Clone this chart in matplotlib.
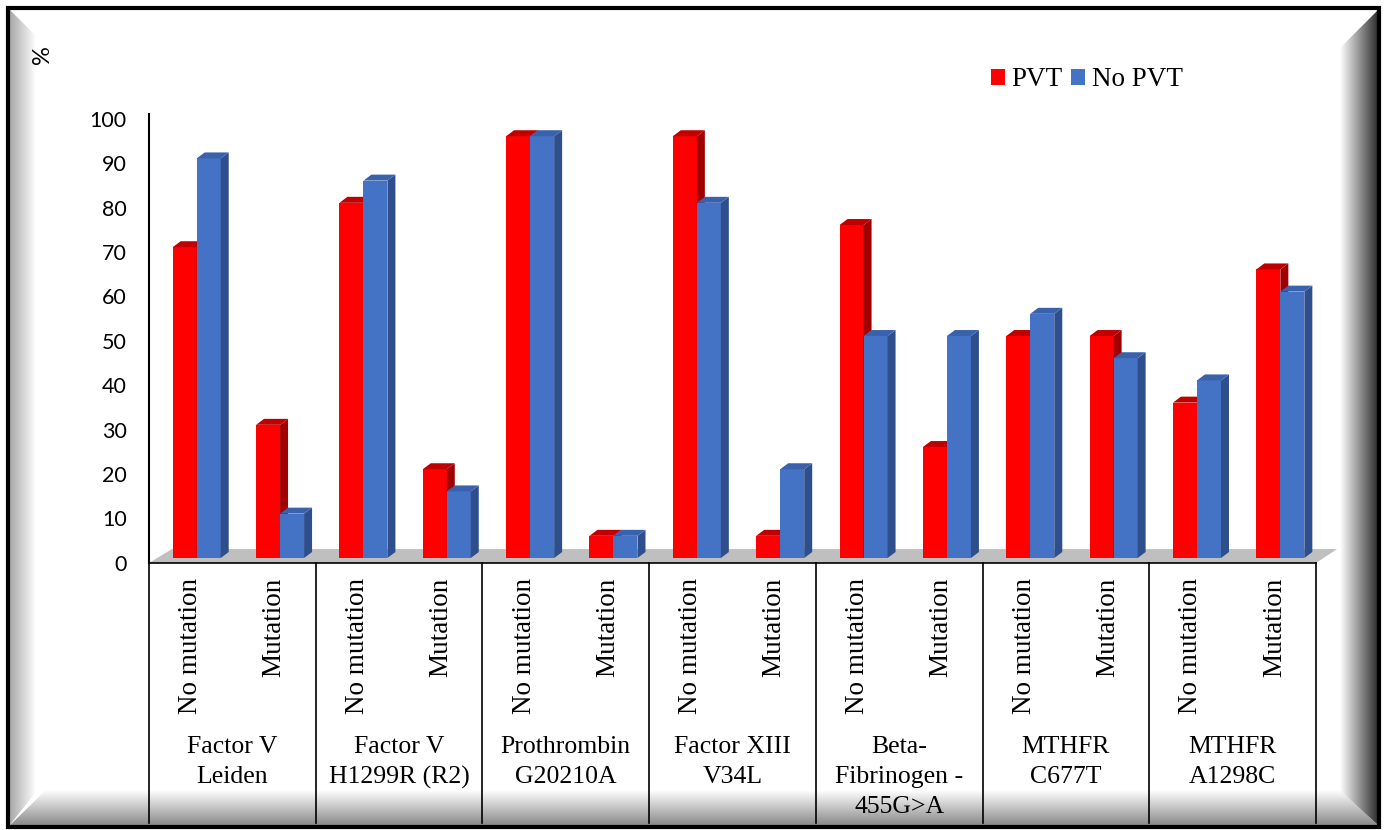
import numpy as np
import matplotlib.pyplot as plt
from matplotlib.patches import Polygon, Patch, Rectangle
from matplotlib.transforms import blended_transform_factory, ScaledTranslation

groups = ["Factor V\nLeiden", "Factor V\nH1299R (R2)", "Prothrombin\nG20210A",
          "Factor XIII\nV34L", "Beta-\nFibrinogen -\n455G>A", "MTHFR\nC677T", "MTHFR\nA1298C"]
subcats = ["No mutation", "Mutation"]
pvt = [70, 30, 80, 20, 95, 5, 95, 5, 75, 25, 50, 50, 35, 65]
no_pvt = [90, 10, 85, 15, 95, 5, 80, 20, 50, 50, 55, 45, 40, 60]

W, H = 1386, 830
fig = plt.figure(figsize=(W / 100, H / 100), dpi=100)

def py(y):
    return 1 - y / H

# frame with bevel
bg = fig.add_axes([0, 0, 1, 1])
bg.set_xlim(0, W)
bg.set_ylim(H, 0)
bg.axis("off")

def grad(ax, poly_pts, extent, c0, c1, horizontal=True):
    t = np.linspace(0, 1, 256)
    c0 = np.array(c0) / 255.0
    c1 = np.array(c1) / 255.0
    cols = c0[None, :] * (1 - t[:, None]) + c1[None, :] * t[:, None]
    img = cols[None, :, :] if horizontal else cols[:, None, :]
    im = ax.imshow(img, extent=extent, aspect="auto", interpolation="bilinear", zorder=1)
    poly = Polygon(poly_pts, closed=True, facecolor="none", edgecolor="none")
    ax.add_patch(poly)
    im.set_clip_path(poly)

# left bevel: gray at edge to white inward
grad(bg, [(9, 9), (36, 36), (36, 792), (9, 826)], (9, 36, 826, 9),
     (165, 165, 165), (255, 255, 255))
# right bevel: white inward to dark at edge
grad(bg, [(1379, 9), (1340, 48), (1340, 792), (1379, 826)], (1340, 1379, 826, 9),
     (255, 255, 255), (40, 40, 40))
# bottom bevel: white at top to gray at the bottom edge
grad(bg, [(9, 826), (46, 790), (1340, 790), (1379, 826)], (9, 1379, 826, 790),
     (255, 255, 255), (135, 135, 135), horizontal=False)
bg.add_patch(Rectangle((8, 8), 1371, 819, fill=False, edgecolor="black", linewidth=3, zorder=5))

# main axes
x0, x1 = 149, 1316
ytop, ybot = 114, 563
ppu = 4.46
ax = fig.add_axes([x0 / W, py(ybot), (x1 - x0) / W, (ybot - ytop) / H])
ax.patch.set_alpha(0)
n = len(pvt)
ax.set_xlim(0, n)
ax.set_ylim(-(ybot - 558) / ppu, (558 - ytop) / ppu)

slot = (x1 - x0) / n
bw = 24 / slot
off = (172.7 - x0) / slot
dx = 8 / slot
dy = 6 / ppu

# floor
fy = (558 - 549) / ppu
floor = Polygon([(0, ax.get_ylim()[0]), ((172 - x0) / slot, fy),
                 ((1337 - x0) / slot, fy), (n, ax.get_ylim()[0])],
                closed=True, facecolor="#BFBFBF", edgecolor="none", clip_on=False, zorder=1)
ax.add_patch(floor)

series = [(pvt, "#FF0000", "#C00000", "#A00000"),
          (no_pvt, "#4472C4", "#3A62AC", "#2F4F8C")]
z = 2
for i in range(n):
    for k, (vals, front, top, side) in enumerate(series):
        v = vals[i]
        xl = i + off + k * bw
        xr = xl + bw
        ax.bar(xl, v, width=bw, align="edge", color=front, edgecolor="none", zorder=z)
        ax.add_patch(Polygon([(xr, 0), (xr + dx, dy), (xr + dx, v + dy), (xr, v)],
                             closed=True, facecolor=side, edgecolor="none", zorder=z))
        ax.add_patch(Polygon([(xl, v), (xl + dx, v + dy), (xr + dx, v + dy), (xr, v)],
                             closed=True, facecolor=top, edgecolor="none", zorder=z))
        z += 1

for s in ["top", "right"]:
    ax.spines[s].set_visible(False)
ax.spines["left"].set_linewidth(1.5)
ax.spines["bottom"].set_linewidth(1.2)
ax.spines["left"].set_zorder(50)
ax.spines["bottom"].set_zorder(50)
ax.set_xticks([])
ax.set_yticks(np.arange(0, 101, 10))
ax.tick_params(axis="y", length=0, pad=16, labelsize=15.5)
for lab in ax.get_yticklabels():
    lab.set_fontfamily("Lato")
    lab.set_transform(lab.get_transform() + ScaledTranslation(0, -3.5 / 72, fig.dpi_scale_trans))

serif = "Liberation Serif"
bt = blended_transform_factory(ax.transData, fig.transFigure)
for i in range(n):
    ax.text(i + 0.5, py(578), subcats[i % 2], rotation=90, ha="center", va="top",
            fontsize=19.5, family=serif, transform=bt, clip_on=False)
for g, name in enumerate(groups):
    ax.text(2 * g + 1, py(736), name, ha="center", va="top", fontsize=18.5,
            family=serif, transform=bt, linespacing=1.47, clip_on=False)
for g in range(len(groups) + 1):
    ax.plot([2 * g, 2 * g], [py(563), py(823)], color="black", linewidth=1.2,
            transform=bt, clip_on=False)

fig.text(42 / W, py(55), "%", rotation=90, ha="center", va="center", fontsize=17, family="Lato")

handles = [Patch(facecolor="#FF0000", label="PVT"), Patch(facecolor="#4472C4", label="No PVT")]
fig.legend(handles=handles, loc="center left", bbox_to_anchor=(980 / W, py(80)), ncol=2,
           frameon=False, prop={"family": serif, "size": 19.5}, handlelength=0.52,
           handleheight=0.52, handletextpad=0.25, columnspacing=0.3, borderaxespad=0)

fig.savefig("out.png", dpi=100)
